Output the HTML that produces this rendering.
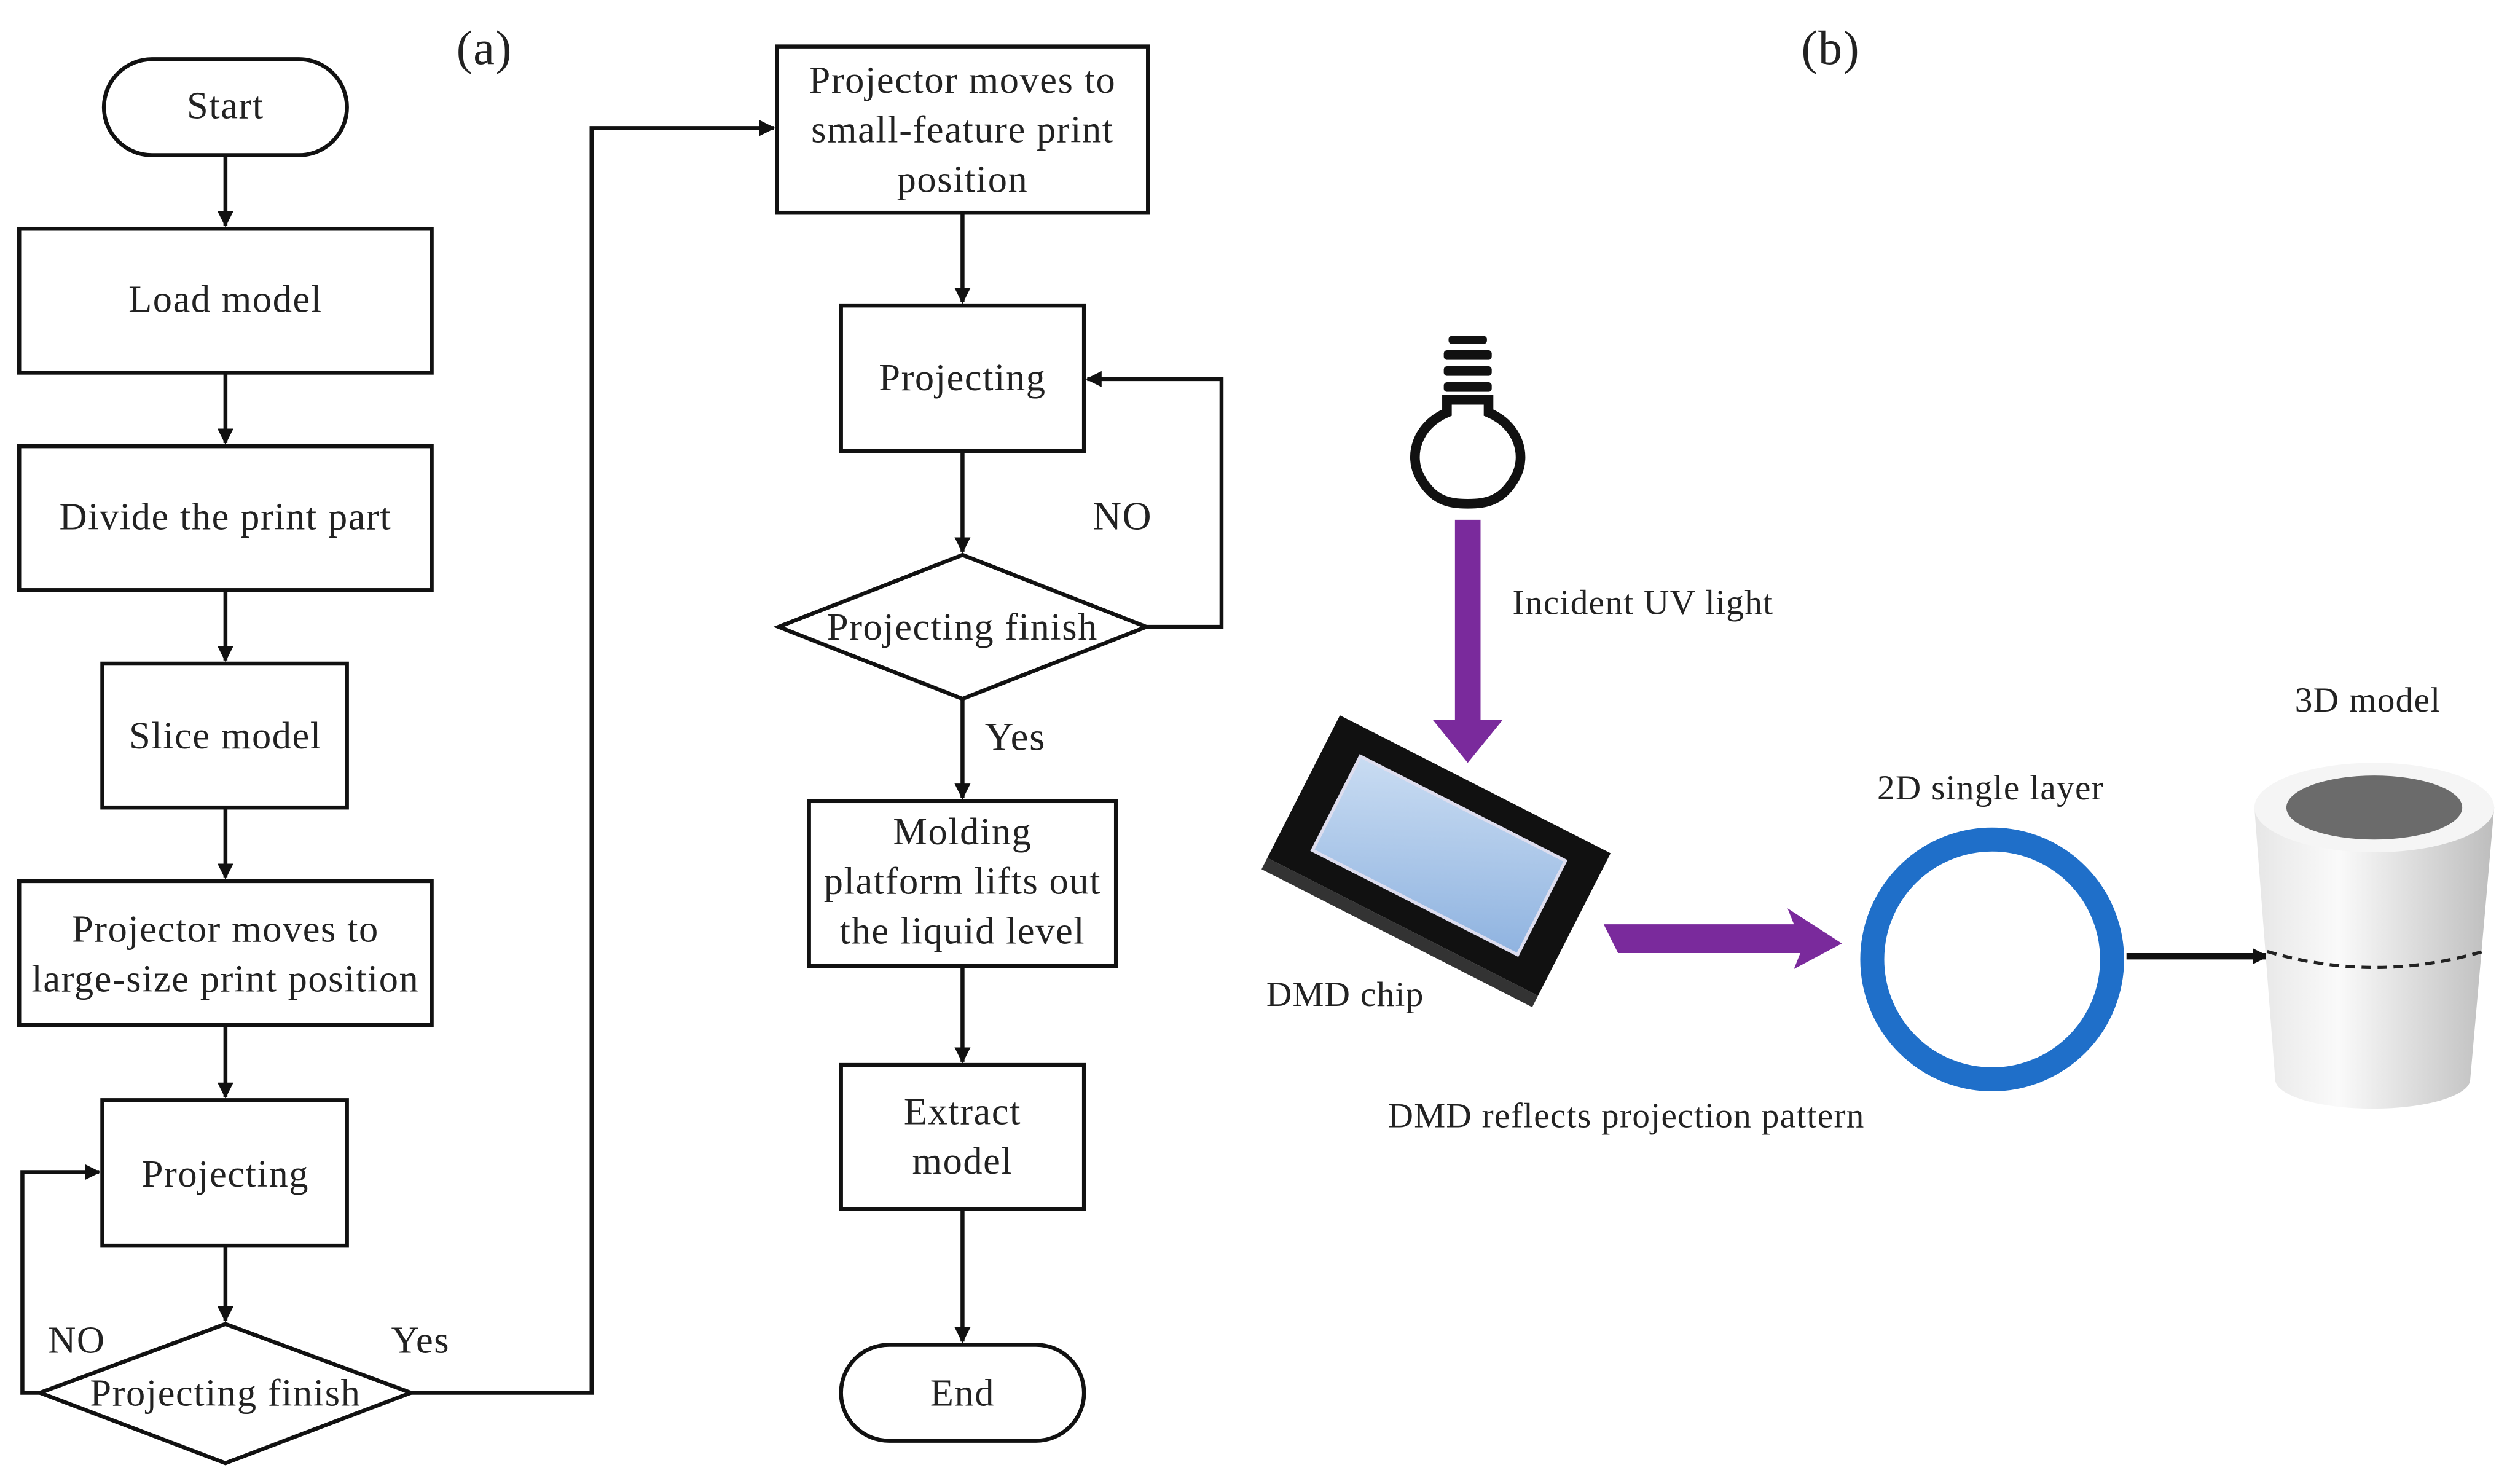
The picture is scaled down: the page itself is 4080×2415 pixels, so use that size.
<!DOCTYPE html>
<html><head><meta charset="utf-8"><style>html,body{margin:0;padding:0;background:#fff}svg{display:block}</style></head><body>
<svg width="4080" height="2415" viewBox="0 0 1568 928" xmlns="http://www.w3.org/2000/svg" font-family="Liberation Serif, serif" font-size="24" letter-spacing="0.6" fill="#222">
<defs>
<marker id="ah" markerWidth="10" markerHeight="10" refX="9" refY="5" orient="auto" markerUnits="userSpaceOnUse"><path d="M0,0 L10,5 L0,10 Z" fill="#111"/></marker>
<linearGradient id="cyl" x1="0" x2="1" y1="0" y2="0"><stop offset="0" stop-color="#e6e6e6"/><stop offset="0.35" stop-color="#fafafa"/><stop offset="1" stop-color="#bdbdbd"/></linearGradient>
<linearGradient id="scr" x1="0" y1="0" x2="1" y2="1"><stop offset="0" stop-color="#c9dcf2"/><stop offset="1" stop-color="#8fb3e0"/></linearGradient>
</defs>
<g stroke="#111" stroke-width="2.5" fill="none">
<rect x="65" y="37" width="152" height="60" rx="30" fill="#fff"/>
<rect x="12" y="143" width="258" height="90" fill="#fff"/>
<rect x="12" y="279" width="258" height="90" fill="#fff"/>
<rect x="64" y="415" width="153" height="90" fill="#fff"/>
<rect x="12" y="551" width="258" height="90" fill="#fff"/>
<rect x="64" y="688" width="153" height="91" fill="#fff"/>
<polygon points="141,828 257,871 141,915 25,871" fill="#fff"/>
<line x1="141" y1="97" x2="141" y2="141" marker-end="url(#ah)"/>
<line x1="141" y1="233" x2="141" y2="277" marker-end="url(#ah)"/>
<line x1="141" y1="369" x2="141" y2="413" marker-end="url(#ah)"/>
<line x1="141" y1="505" x2="141" y2="549" marker-end="url(#ah)"/>
<line x1="141" y1="641" x2="141" y2="686" marker-end="url(#ah)"/>
<line x1="141" y1="779" x2="141" y2="826" marker-end="url(#ah)"/>
<polyline points="25,871 14,871 14,733 62,733" marker-end="url(#ah)"/>
<polyline points="257,871 370,871 370,80 484,80" marker-end="url(#ah)"/>
<rect x="486" y="29" width="232" height="104" fill="#fff"/>
<rect x="526" y="191" width="152" height="91" fill="#fff"/>
<polygon points="602,347 717,392 602,437 487,392" fill="#fff"/>
<rect x="506" y="501" width="192" height="103" fill="#fff"/>
<rect x="526" y="666" width="152" height="90" fill="#fff"/>
<rect x="526" y="841" width="152" height="60" rx="30" fill="#fff"/>
<line x1="602" y1="133" x2="602" y2="189" marker-end="url(#ah)"/>
<line x1="602" y1="282" x2="602" y2="345" marker-end="url(#ah)"/>
<polyline points="717,392 764,392 764,237 680,237" marker-end="url(#ah)"/>
<line x1="602" y1="437" x2="602" y2="499" marker-end="url(#ah)"/>
<line x1="602" y1="604" x2="602" y2="664" marker-end="url(#ah)"/>
<line x1="602" y1="756" x2="602" y2="839" marker-end="url(#ah)"/>
</g>
<g text-anchor="middle">
<text x="141" y="74">Start</text>
<text x="141" y="195">Load model</text>
<text x="141" y="331">Divide the print part</text>
<text x="141" y="468">Slice model</text>
<text x="141" y="589">Projector moves to</text>
<text x="141" y="620">large-size print position</text>
<text x="141" y="742">Projecting</text>
<text x="141" y="879">Projecting finish</text>
<text x="48" y="846">NO</text>
<text x="263" y="846">Yes</text>
<text x="303" y="40" font-size="30">(a)</text>
<text x="1145" y="40" font-size="30">(b)</text>
<text x="602" y="58">Projector moves to</text>
<text x="602" y="89">small-feature print</text>
<text x="602" y="120">position</text>
<text x="602" y="244">Projecting</text>
<text x="602" y="400">Projecting finish</text>
<text x="702" y="331" font-size="25">NO</text>
<text x="635" y="469" font-size="25">Yes</text>
<text x="602" y="528">Molding</text>
<text x="602" y="559">platform lifts out</text>
<text x="602" y="590">the liquid level</text>
<text x="602" y="703">Extract</text>
<text x="602" y="734">model</text>
<text x="602" y="879">End</text>
</g>
<g fill="#111">
<rect x="906" y="210" width="24" height="5" rx="2"/>
<rect x="903" y="219" width="30" height="6" rx="2"/>
<rect x="903" y="229" width="30" height="6" rx="2"/>
<rect x="903" y="239" width="30" height="6" rx="2"/>
</g>
<path d="M905,250 L931,250 L931,258 C950,266 955,285 948,298 C940,313 930,315 918,315 C906,315 896,313 888,298 C881,285 886,266 905,258 Z" fill="#fff" stroke="#111" stroke-width="6"/>
<path d="M910,325 L926,325 L926,450 L940,450 L918,477 L896,450 L910,450 Z" fill="#7a2a9c"/>
<g font-size="22" letter-spacing="0.5">
<text x="946" y="384">Incident UV light</text>
<text x="792" y="629">DMD chip</text>
<text x="868" y="705">DMD reflects projection pattern</text>
<text x="1245" y="500" text-anchor="middle">2D single layer</text>
<text x="1481" y="445" text-anchor="middle">3D model</text>
</g>
<g transform="translate(900,535) rotate(27)">
<rect x="-95" y="-50" width="190" height="100" fill="#111"/>
<rect x="-95" y="50" width="190" height="8" fill="#333"/>
<rect x="-72" y="-33" width="144" height="66" fill="url(#scr)" stroke="#dde" stroke-width="2"/>
</g>
<path d="M1003,578 L1122,578 L1118,568 L1152,590 L1122,606 L1126,596 L1012,596 Z" fill="#7a2a9c"/>
<circle cx="1246" cy="600" r="75" fill="none" stroke="#1f6fc9" stroke-width="15"/>
<line x1="1330" y1="598" x2="1418" y2="598" stroke="#111" stroke-width="4" marker-end="url(#ah)"/>
<path d="M1410,505 L1423,675 A60,18 0 0 0 1545,675 L1560,505 Z" fill="url(#cyl)"/>
<ellipse cx="1485" cy="505" rx="75" ry="28" fill="#f5f5f5"/>
<ellipse cx="1485" cy="505" rx="55" ry="20" fill="#6b6b6b"/>
<path d="M1418,595 Q1485,615 1553,595" fill="none" stroke="#222" stroke-width="2" stroke-dasharray="6,4"/>
</svg>
</body></html>
